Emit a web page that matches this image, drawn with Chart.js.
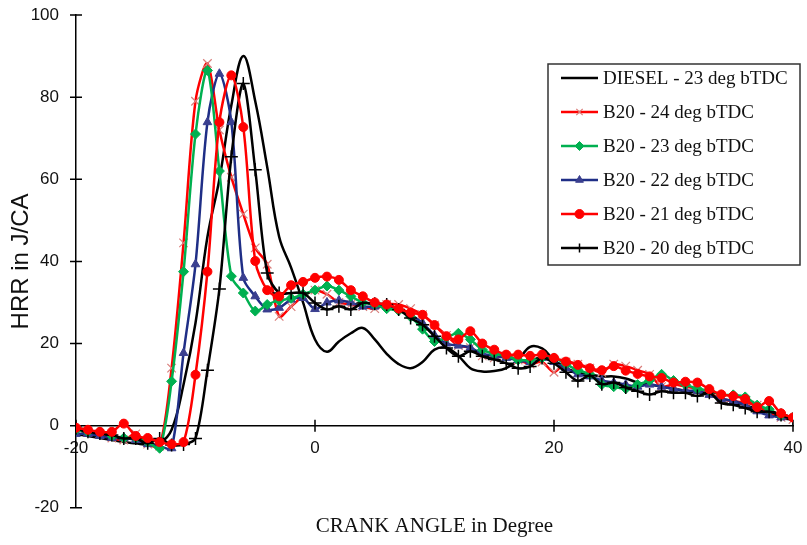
<!DOCTYPE html>
<html><head><meta charset="utf-8">
<script src="https://cdn.jsdelivr.net/npm/chart.js@4.4.0/dist/chart.umd.min.js"></script>
<style>html,body{margin:0;padding:0;background:#fff}#wrap{width:807px;height:545px;position:relative}</style>
</head><body><div id="wrap"><canvas id="c"></canvas></div>
<script>
// ---- data ----
const crankAngle = [-20,-19,-18,-17,-16,-15,-14,-13,-12,-11,-10,-9,-8,-7,-6,-5,-4,-3,-2,-1,
  0,1,2,3,4,5,6,7,8,9,10,11,12,13,14,15,16,17,18,19,20,21,22,23,24,25,26,27,28,29,
  30,31,32,33,34,35,36,37,38,39,40];

const seriesNames = ['DIESEL - 23 deg bTDC','B20 - 24 deg bTDC','B20 - 23 deg bTDC',
  'B20 - 22 deg bTDC','B20 - 21 deg bTDC','B20 - 20 deg bTDC'];

const diesel23 = [-2,-2.5,-3,-3.5,-4,-4.3,-4.6,-4.3,-1,10,
  25,46,60,78,90,79,63,46,38.5,30,
  21,18,20.5,22.5,23.8,21,17.5,15,14,15.5,
  18.5,19,17,14,13.2,13.3,14,16,19.2,18.8,
  16,14,13,12.5,12,12,11.5,10.5,10,9.5,
  9,8.5,8,7.5,6.5,6,5,4,3,2,
  1.5];
const b20_24 = [-1,-1.5,-2,-3,-3.5,-2,-4.5,-5,14,44.5,
  79,88.2,72,60.5,51.5,43.3,39.3,26.6,29,31.5,
  33,32,30,29.5,29,28.5,29.5,29.5,28.5,27,
  24.5,22,19.5,19,17,16.5,17,16,15,15.5,
  13,15.5,15,14,13,15,14.5,13.5,12.5,9.5,
  10,9.5,9,8,6.5,6,5.5,5,3,2,
  1.5];
const b20_23 = [-1,-1.5,-1.5,-2.5,-3,-3,-4,-5.5,10.8,37.5,
  71,86.5,62,36.4,32.3,27.9,29.5,30.5,31,32,
  33,34,33,31.5,30,29.5,28.5,28,26.5,23.5,
  20.5,21.5,22.5,21,18.5,17.5,17,16,16,16.5,
  16.5,15,13.5,12.5,10,9.5,9,10,11,12.5,
  11,10,9,8.5,7.5,7.5,7,5,4,2.5,
  2];
const b20_22 = [-2,-2,-2.5,-3,-3,-3.5,-4.5,-5,-5.5,17.7,
  39.3,73.9,85.7,73.9,36,31.5,28.3,28.7,30.7,31.1,
  28.4,30,30.5,30,29,29,29,28.5,27,25,
  22,20,19.5,19,17.5,17,16.5,16,15.5,16.5,
  15.5,14,12.5,12,11,10.5,10,9.5,10,9.5,
  9,8.5,8.5,7.5,6.5,6,5,3.5,2.5,2,
  2];
const b20_21 = [-0.5,-1,-1.5,-1.5,0.5,-2.5,-3,-4,-4.5,-4,
  12.4,37.5,73.9,85.3,72.7,40.1,33,31.5,34.2,35,
  36,36.3,35.5,33,31.5,30,29.5,28.5,27.5,27,
  24.5,21.8,21,23,20,18.5,17.3,17.3,17,17.3,
  16.5,15.6,14.8,14,13.5,14.5,13.4,12.6,12,11.6,
  10.5,10.7,10.5,8.9,7.6,7.2,6.5,4.5,6,3,
  2];
const b20_20 = [-0.6,-1.5,-1.9,-2.3,-3.1,-3.1,-4.3,-3.1,-4.7,-4.6,
  -3.1,13.5,33.3,65.5,83.3,62.3,37.2,32.3,32.3,32.3,
  29.9,28.3,29.1,28.3,29.9,29.7,29.5,28.3,26.2,24.6,
  21.8,18.9,16.9,18.1,16.9,16.1,15.2,14,14.4,16.5,
  15.2,13,10.9,12.2,10.1,10.5,9.3,8.4,7.6,8.4,
  8,8,7.2,8,5.5,5.1,4.3,3.4,3.4,2.6,
  1.5];
const yTicks = [-20,0,20,40,60,80,100];
const xTicks = [-20,0,20,40];

// ---- styles ----
const styles = [
  {color:'#000000', mColor:'#000000', pointStyle:false, radius:0, bw:1, order:5, tension:0.4},
  {color:'#FF0000', mColor:'#D97F7C', pointStyle:'crossRot', radius:6, bw:1.2, order:4, tension:0.3},
  {color:'#00B050', mColor:'#00B050', pointStyle:'rectRot', radius:5, bw:1, order:2, tension:0.3},
  {color:'#1F2E86', mColor:'#3A3F8F', pointStyle:'triangle', radius:5, bw:1, order:3, tension:0.3},
  {color:'#FF0000', mColor:'#FF0000', pointStyle:'circle', radius:4.5, bw:1, order:0, tension:0.3},
  {color:'#000000', mColor:'#000000', pointStyle:'cross', radius:6.5, bw:1.5, order:1, tension:0.3}
];
const allSeries = [diesel23, b20_24, b20_23, b20_22, b20_21, b20_20];

const datasets = allSeries.map((d, i) => {
  const s = styles[i];
  return {
    label: seriesNames[i], data: d,
    borderColor: s.color, borderWidth: 2.5,
    backgroundColor: s.mColor,
    pointStyle: s.pointStyle, pointRadius: s.radius,
    pointBackgroundColor: s.mColor, pointBorderColor: s.mColor,
    pointBorderWidth: s.bw, pointHoverRadius: s.radius,
    tension: s.tension, order: s.order, fill: false
  };
});

function drawMarker(ctx, style, radius, x, y) {
  if (!style) return;
  if (Chart.helpers && Chart.helpers.drawPoint) {
    Chart.helpers.drawPoint(ctx, {pointStyle: style, radius: radius, rotation: 0, borderWidth: ctx.lineWidth}, x, y);
  }
}

const crossTicks = {
  id: 'crossTicks',
  beforeDatasetsDraw(chart) {
    const {ctx, chartArea} = chart;
    const xs = chart.scales.x, ys = chart.scales.y;
    const L = 6;
    const y0 = ys.getPixelForValue(0);
    ctx.save();
    ctx.strokeStyle = '#000'; ctx.lineWidth = 1.5;
    ctx.beginPath();
    yTicks.forEach(v => { const p = ys.getPixelForValue(v); ctx.moveTo(chartArea.left - L, p); ctx.lineTo(chartArea.left + L, p); });
    xTicks.forEach(v => { const p = xs.getPixelForValue(v); ctx.moveTo(p, y0 - L); ctx.lineTo(p, y0 + L); });
    ctx.stroke();
    ctx.restore();
  }
};

const boxLegend = {
  id: 'boxLegend',
  afterDraw(chart, args, o) {
    const ctx = chart.ctx;
    ctx.save();
    ctx.fillStyle = '#fff';
    ctx.fillRect(o.x, o.y, o.w, o.h);
    ctx.strokeStyle = '#333'; ctx.lineWidth = 1.5;
    ctx.strokeRect(o.x, o.y, o.w, o.h);
    ctx.font = o.font; ctx.textBaseline = 'middle'; ctx.textAlign = 'left';
    chart.data.datasets.forEach((ds, i) => {
      const s = styles[i];
      const cy = o.firstY + i * o.rowH;
      ctx.strokeStyle = s.color; ctx.lineWidth = 2.5;
      ctx.beginPath(); ctx.moveTo(o.lineX0, cy); ctx.lineTo(o.lineX1, cy); ctx.stroke();
      ctx.fillStyle = s.mColor; ctx.strokeStyle = s.mColor; ctx.lineWidth = s.bw;
      drawMarker(ctx, s.pointStyle, Math.min(s.radius, 4.5), (o.lineX0 + o.lineX1) / 2, cy);
      ctx.fillStyle = '#111';
      ctx.fillText(ds.label, o.textX, cy + 1);
    });
    ctx.restore();
  }
};

new Chart(document.getElementById('c'), {
  type: 'line',
  data: { labels: crankAngle, datasets: datasets },
  plugins: [crossTicks, boxLegend],
  options: {
    responsive: true, maintainAspectRatio: false, animation: false,
    layout: { padding: { top: 15, right: 14, left: 0, bottom: 0 } },
    plugins: {
      legend: { display: false },
      tooltip: { enabled: false },
      title: {
        display: true, position: 'bottom', fullSize: false,
        text: 'CRANK ANGLE in Degree', color: '#111',
        font: { family: 'Liberation Serif', size: 21, weight: 'normal' },
        padding: { top: 6, bottom: 6 }
      },
      boxLegend: {
        x: 548, y: 64, w: 252, h: 201, firstY: 78, rowH: 34,
        lineX0: 561, lineX1: 598, textX: 603,
        font: '19px "Liberation Serif"'
      }
    },
    scales: {
      x: {
        type: 'linear', min: -20, max: 40, position: { y: 0 },
        afterBuildTicks: (s) => { s.ticks = xTicks.map(v => ({ value: v })); },
        grid: { display: false, drawTicks: true, tickLength: 12 },
        border: { display: true, color: '#000', width: 1.5 },
        ticks: { color: '#111', padding: 0, font: { family: 'Liberation Sans', size: 17 }, maxRotation: 0 }
      },
      y: {
        type: 'linear', min: -20, max: 100,
        afterBuildTicks: (s) => { s.ticks = yTicks.map(v => ({ value: v })); },
        afterFit: (s) => { s.width = 76; },
        grid: { display: false, drawTicks: true, tickLength: 17 },
        border: { display: true, color: '#000', width: 1.5 },
        ticks: { color: '#111', padding: 0, font: { family: 'Liberation Sans', size: 17 } },
        title: {
          display: true, text: 'HRR in J/CA', color: '#111',
          font: { family: 'Liberation Sans', size: 24, weight: 'normal' },
          padding: { top: 7, bottom: 0 }
        }
      }
    }
  }
});
</script>
</body></html>
